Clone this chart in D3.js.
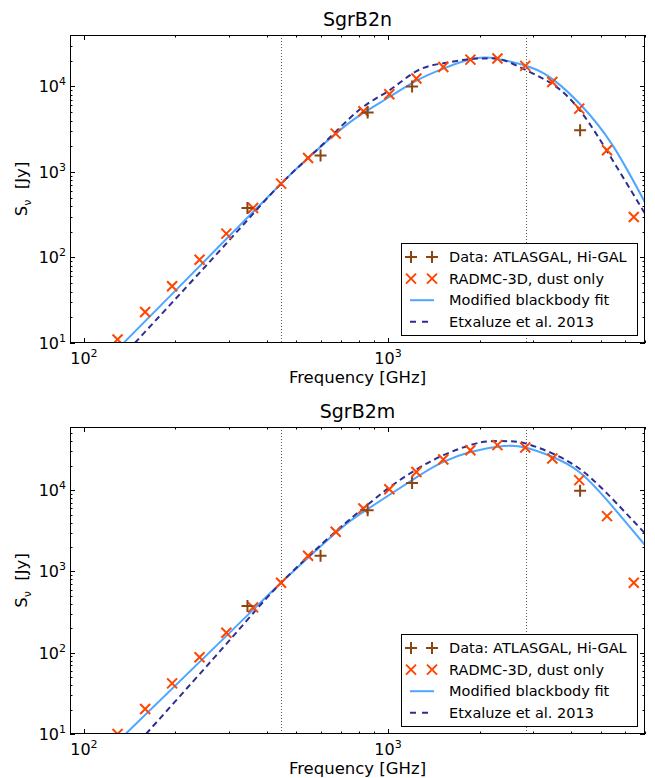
<!DOCTYPE html>
<html><head><meta charset="utf-8">
<script src="https://cdn.jsdelivr.net/npm/d3@7"></script>
<style>body{margin:0;background:#fff} text{font-family:"DejaVu Sans",sans-serif;fill:#000}</style>
</head><body><svg id="c" width="655" height="778"></svg>
<script>
// ---------- data ----------
const panelTitles = ["SgrB2n", "SgrB2m"];
const xTickLabels = [100, 1000];
const legendLabels = ["Data: ATLASGAL, Hi-GAL", "RADMC-3D, dust only", "Modified blackbody fit", "Etxaluze et al. 2013"];
const dottedFreqs = [444, 2850];

// Observed data (ATLASGAL + Hi-GAL)
const obsF_n = [345, 600, 857, 1200, 4283];
const obsS_n = [380, 1560, 4950, 10000, 3080];
const obsF_m = [345, 600, 857, 1200, 4283];
const obsS_m = [375, 1560, 5690, 12300, 9840];

// RADMC-3D model points
const radF = [129, 159, 195, 240, 294, 360, 445, 546, 673, 830, 1010, 1240, 1520, 1866, 2290, 2827, 3470, 4255, 5250, 6430];
const radS_n = [11, 23, 46, 94, 190, 379, 731, 1460, 2810, 5130, 8110, 12400, 16900, 20600, 21200, 17400, 11300, 5510, 1795, 298];
const radS_m = [10, 20.3, 42, 88, 176, 362, 726, 1560, 3080, 5970, 10300, 16800, 23900, 31100, 35900, 33600, 24600, 13300, 4800, 726];

// Modified blackbody fit
const fitF_n = [135, 200, 300, 445, 546, 673, 807, 1010, 1240, 1520, 1866, 2080, 2300, 2920, 3520, 4315, 5480, 7000];
const fitS_n = [10, 41, 177, 731, 1460, 2810, 4600, 7530, 11700, 16200, 20800, 21800, 21000, 16900, 11800, 6030, 2050, 440];
const fitF_m = [137, 300, 445, 673, 830, 1240, 1520, 1866, 2400, 2827, 3470, 4255, 5250, 7000];
const fitS_m = [10, 173, 726, 3000, 5420, 14400, 22300, 29600, 35000, 33600, 25800, 16800, 7550, 2110];

// Etxaluze et al. 2013
const etxF_n = [147, 300, 445, 600, 807, 1010, 1240, 1520, 1866, 2100, 2400, 2920, 3520, 4315, 5480, 7000];
const etxS_n = [10, 158, 731, 1990, 5370, 9000, 15100, 18700, 21000, 21300, 20300, 14800, 10300, 5040, 1370, 326];
const etxF_m = [160, 305, 445, 673, 830, 1010, 1240, 1520, 1866, 2150, 2500, 2827, 3470, 4255, 5250, 7000];
const etxS_m = [10, 150, 726, 3100, 6000, 10800, 18000, 27000, 35900, 40000, 40000, 37700, 28400, 18500, 9140, 2940];

// ---------- layout ----------
const svg = d3.select("#c");
const plotLeft = 70, plotRight = 645;
const xDomain = [90, 7000];
const colObs = "#8b4513", colRad = "#ff4500", colFit = "#4da6ff", colEtx = "#2e2e90";

const panels = [
  {title: panelTitles[0], y0: 35, y1: 343, ymax: 4e4, obsF: obsF_n, obsS: obsS_n, radS: radS_n, fitF: fitF_n, fitS: fitS_n, etxF: etxF_n, etxS: etxS_n},
  {title: panelTitles[1], y0: 427, y1: 734, ymax: 6e4, obsF: obsF_m, obsS: obsS_m, radS: radS_m, fitF: fitF_m, fitS: fitS_m, etxF: etxF_m, etxS: etxS_m}
];

const crossPath = "M-5,-5L5,5M-5,5L5,-5";
const plusPath = "M-6,0H6M0,-6V6";

panels.forEach((p, pi) => {
  const x = d3.scaleLog().domain(xDomain).range([plotLeft, plotRight]);
  const y = d3.scaleLog().domain([10, p.ymax]).range([p.y1, p.y0]);
  const g = svg.append("g");
  const clipId = "clip" + pi;
  svg.append("clipPath").attr("id", clipId).append("rect")
    .attr("x", plotLeft).attr("y", p.y0).attr("width", plotRight - plotLeft).attr("height", p.y1 - p.y0);

  // ticks (inside, all four sides)
  const xt = [];
  for (let e = 1; e <= 4; e++) for (let m = 1; m <= 9; m++) { const v = m * Math.pow(10, e); if (v >= xDomain[0] && v <= xDomain[1]) xt.push({v, major: m === 1}); }
  const yt = [];
  for (let e = 1; e <= 5; e++) for (let m = 1; m <= 9; m++) { const v = m * Math.pow(10, e); if (v >= 10 && v <= p.ymax * 1.0001) yt.push({v, major: m === 1}); }
  const tg = g.append("g").attr("stroke", "#000").attr("stroke-width", 1);
  xt.forEach(t => {
    const X = Math.round(x(t.v)) + 0.5, L = t.major ? 5 : 2.5;
    tg.append("line").attr("x1", X).attr("x2", X).attr("y1", p.y1).attr("y2", p.y1 - L);
    tg.append("line").attr("x1", X).attr("x2", X).attr("y1", p.y0).attr("y2", p.y0 + L);
  });
  yt.forEach(t => {
    const Y = Math.round(y(t.v)) + 0.5, L = t.major ? 5 : 2.5;
    tg.append("line").attr("y1", Y).attr("y2", Y).attr("x1", plotLeft).attr("x2", plotLeft + L);
    tg.append("line").attr("y1", Y).attr("y2", Y).attr("x1", plotRight).attr("x2", plotRight - L);
  });

  // tick labels
  xTickLabels.forEach(v => {
    const t = g.append("text").attr("x", x(v)).attr("y", p.y1 + 21).attr("text-anchor", "middle").attr("font-size", 16);
    t.append("tspan").text("10");
    t.append("tspan").attr("dy", -7).attr("font-size", 11).text(Math.round(Math.log10(v)));
  });
  yt.filter(t => t.major).forEach(t => {
    const tx = g.append("text").attr("x", plotLeft - 4).attr("y", y(t.v) + 6).attr("text-anchor", "end").attr("font-size", 16);
    tx.append("tspan").text("10");
    tx.append("tspan").attr("dy", -7).attr("font-size", 11).text(Math.round(Math.log10(t.v)));
  });

  // dotted reference lines
  dottedFreqs.forEach(f => {
    g.append("line").attr("x1", Math.round(x(f)) + 0.5).attr("x2", Math.round(x(f)) + 0.5)
      .attr("y1", p.y0).attr("y2", p.y1).attr("stroke", "#333").attr("stroke-width", 0.8).attr("stroke-dasharray", "1,2");
  });

  const cg = g.append("g").attr("clip-path", `url(#${clipId})`);
  const line = d3.line().x(d => x(d[0])).y(d => y(d[1])).curve(d3.curveNatural);
  cg.append("path").datum(p.fitF.map((f, i) => [f, p.fitS[i]])).attr("d", line)
    .attr("fill", "none").attr("stroke", colFit).attr("stroke-width", 2);
  cg.append("path").datum(p.etxF.map((f, i) => [f, p.etxS[i]])).attr("d", line)
    .attr("fill", "none").attr("stroke", colEtx).attr("stroke-width", 2).attr("stroke-dasharray", "6,4");

  // markers
  cg.selectAll(".rad").data(radF.map((f, i) => [f, p.radS[i]])).enter().append("path")
    .attr("d", crossPath).attr("transform", d => `translate(${x(d[0])},${y(d[1])})`)
    .attr("stroke", colRad).attr("stroke-width", 2).attr("fill", "none");
  cg.selectAll(".obs").data(p.obsF.map((f, i) => [f, p.obsS[i]])).enter().append("path")
    .attr("d", plusPath).attr("transform", d => `translate(${x(d[0])},${y(d[1])})`)
    .attr("stroke", colObs).attr("stroke-width", 2).attr("fill", "none");

  // frame
  g.append("rect").attr("x", plotLeft + 0.5).attr("y", p.y0 + 0.5).attr("width", plotRight - plotLeft - 1).attr("height", p.y1 - p.y0 - 1)
    .attr("fill", "none").attr("stroke", "#000").attr("stroke-width", 1);

  // title & axis labels
  g.append("text").attr("x", (plotLeft + plotRight) / 2).attr("y", p.y0 - 9).attr("text-anchor", "middle").attr("font-size", 19).text(p.title);
  g.append("text").attr("x", (plotLeft + plotRight) / 2).attr("y", p.y1 + 40).attr("text-anchor", "middle").attr("font-size", 16.5).text("Frequency [GHz]");
  const yl = g.append("text").attr("transform", `translate(27,${(p.y0 + p.y1) / 2}) rotate(-90)`).attr("text-anchor", "middle").attr("font-size", 16.5);
  yl.append("tspan").text("S");
  yl.append("tspan").attr("dy", 4).attr("font-size", 11).text("ν");
  yl.append("tspan").attr("dy", -4).text("\u00a0 [Jy]");

  // legend
  const lx = 401, lw = 236, lh = 92, ly = p.y1 - 100;
  const lg = g.append("g");
  lg.append("rect").attr("x", lx + 0.5).attr("y", ly + 0.5).attr("width", lw).attr("height", lh).attr("fill", "#fff").attr("stroke", "#000");
  legendLabels.forEach((lab, i) => {
    const cy = ly + 14 + i * 21.6;
    if (i === 0 || i === 1) {
      [411, 432].forEach(mx => lg.append("path").attr("d", i === 0 ? plusPath : crossPath)
        .attr("transform", `translate(${mx},${cy})`).attr("stroke", i === 0 ? colObs : colRad).attr("stroke-width", 2).attr("fill", "none"));
    } else {
      lg.append("line").attr("x1", 410).attr("x2", 434).attr("y1", cy).attr("y2", cy)
        .attr("stroke", i === 2 ? colFit : colEtx).attr("stroke-width", 2).attr("stroke-dasharray", i === 3 ? "6,6" : null);
    }
    lg.append("text").attr("x", 449).attr("y", cy + 5).attr("font-size", 14.5).text(lab);
  });
});
</script></body></html>
